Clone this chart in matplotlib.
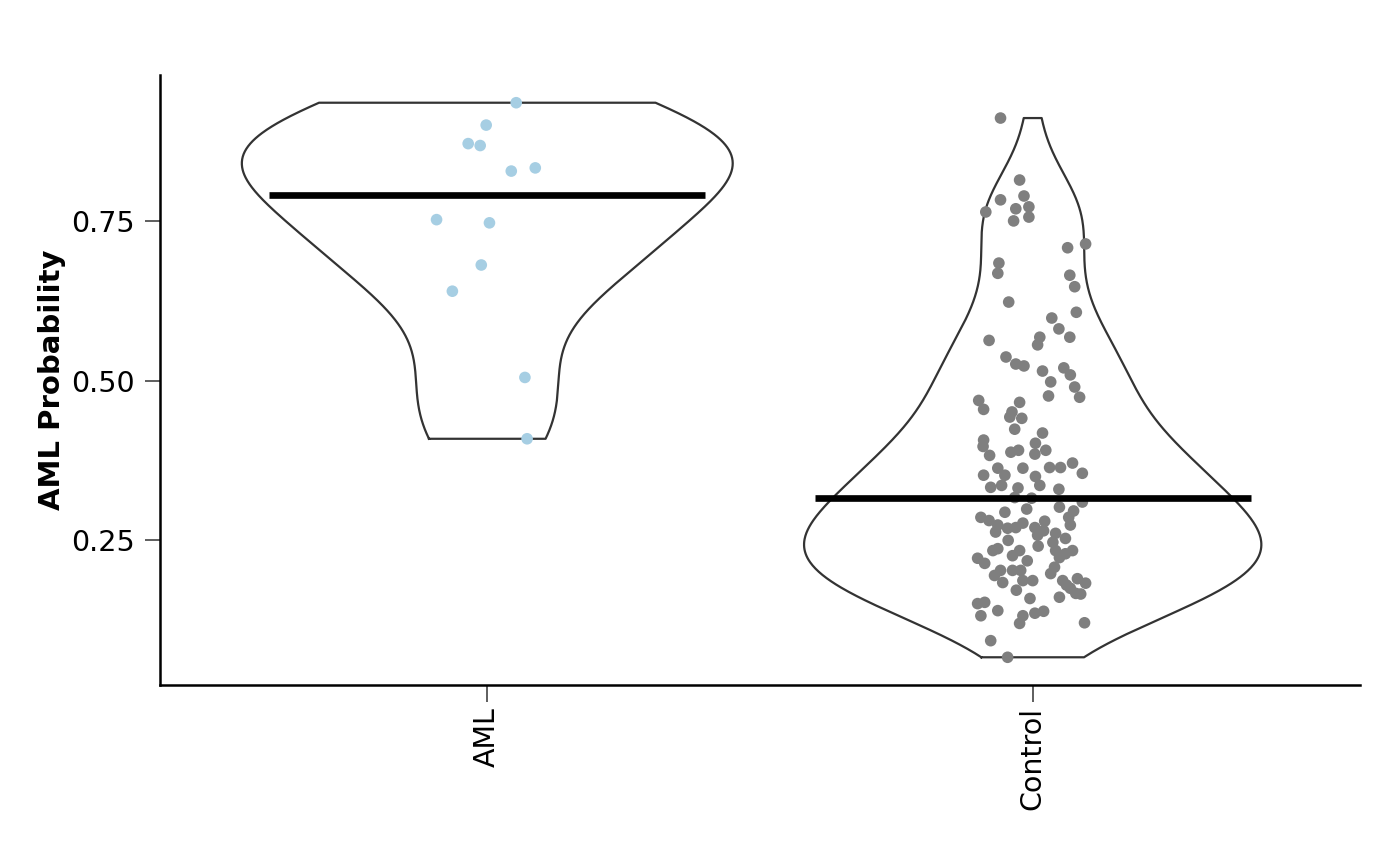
import numpy as np
import matplotlib
matplotlib.use("Agg")
import matplotlib.pyplot as plt

# categories and colours
groups = ["AML", "Control"]
point_colors = ["#a6cee3", "#7f7f7f"]

# AML probability per sample
aml_prob = [0.935, 0.900, 0.871, 0.868, 0.833, 0.828,
            0.752, 0.747, 0.681, 0.640, 0.505, 0.409]
aml_jit = [0.053, -0.002, -0.035, -0.013, 0.088, 0.044,
           -0.093, 0.004, -0.011, -0.064, 0.069, 0.073]

ctrl_prob = [0.911, 0.814, 0.789, 0.783, 0.772, 0.769, 0.764, 0.756, 0.750, 0.714,
             0.708, 0.684, 0.668, 0.665, 0.647, 0.623, 0.607, 0.598, 0.581, 0.568,
             0.563, 0.568, 0.556, 0.537, 0.526, 0.523, 0.515, 0.498, 0.520, 0.509,
             0.490, 0.474, 0.476, 0.469, 0.455, 0.466, 0.451, 0.443, 0.441, 0.424,
             0.418, 0.402, 0.407, 0.397, 0.388, 0.391, 0.391, 0.385, 0.383, 0.371,
             0.355, 0.364, 0.364, 0.363, 0.363, 0.352, 0.352, 0.350, 0.336, 0.333,
             0.336, 0.332, 0.330, 0.317, 0.316, 0.310, 0.299, 0.302, 0.294, 0.286,
             0.286, 0.280, 0.274, 0.277, 0.270, 0.269, 0.270, 0.274, 0.263, 0.258,
             0.261, 0.253, 0.247, 0.234, 0.237, 0.234, 0.226, 0.234, 0.234, 0.222,
             0.223, 0.214, 0.203, 0.203, 0.203, 0.184, 0.187, 0.187, 0.198, 0.187,
             0.190, 0.183, 0.175, 0.167, 0.161, 0.159, 0.151, 0.153, 0.132, 0.140,
             0.132, 0.136, 0.139, 0.120, 0.121, 0.093, 0.067,
             0.296, 0.281, 0.265, 0.250, 0.241, 0.229, 0.218, 0.208, 0.195, 0.180,
             0.172, 0.166]
ctrl_jit = [-0.059, -0.024, -0.016, -0.059, -0.007, -0.031, -0.086, -0.007, -0.035, 0.097,
            0.064, -0.062, -0.064, 0.068, 0.077, -0.044, 0.080, 0.035, 0.048, 0.068,
            -0.080, 0.013, 0.009, -0.049, -0.031, -0.016, 0.018, 0.033, 0.057, 0.069,
            0.077, 0.086, 0.029, -0.099, -0.090, -0.024, -0.038, -0.042, -0.020, -0.033,
            0.018, 0.005, -0.090, -0.091, -0.040, -0.026, 0.024, 0.004, -0.079, 0.073,
            0.091, 0.031, 0.051, -0.018, -0.064, -0.051, -0.090, 0.005, 0.013, -0.077,
            -0.057, -0.027, 0.048, -0.033, -0.002, 0.091, -0.011, 0.049, -0.051, -0.095,
            0.066, 0.022, -0.064, -0.018, -0.031, -0.046, 0.004, 0.069, -0.068, 0.009,
            0.042, 0.060, 0.037, -0.073, -0.064, -0.024, -0.037, 0.042, 0.073, -0.101,
            0.049, -0.088, -0.059, -0.037, -0.022, -0.055, -0.018, 0.000, 0.033, 0.055,
            0.082, 0.097, 0.069, 0.079, 0.049, -0.005, -0.101, -0.088, -0.095, -0.064,
            -0.018, 0.004, 0.020, -0.024, 0.095, -0.077, -0.046,
            0.075, -0.080, 0.020, -0.045, 0.010, 0.060, -0.010, 0.040, -0.070, 0.062,
            -0.030, 0.088]

yticks = [0.25, 0.50, 0.75]
yticklabels = ["0.25", "0.50", "0.75"]

data = [np.array(aml_prob), np.array(ctrl_prob)]
jitter = [np.array(aml_jit), np.array(ctrl_jit)]


def nrd0(x):
    # R's default bandwidth
    sd = np.std(x, ddof=1)
    iqr = np.subtract(*np.percentile(x, [75, 25]))
    lo = min(sd, iqr / 1.34)
    return 0.9 * lo * len(x) ** -0.2


def kde(x, grid):
    bw = nrd0(x)
    z = (grid[:, None] - x[None, :]) / bw
    return np.exp(-0.5 * z ** 2).sum(axis=1) / (len(x) * bw * np.sqrt(2 * np.pi))


grids, dens = [], []
for d in data:
    g = np.linspace(d.min(), d.max(), 512)
    grids.append(g)
    dens.append(kde(d, g))
dmax = max(dd.max() for dd in dens)

fig = plt.figure(figsize=(14, 8.66), dpi=100)
ax = fig.add_axes([0.1143, 0.209, 0.8571, 0.7044])

for i, (g, dd) in enumerate(zip(grids, dens)):
    pos = i + 1
    half = dd / dmax * 0.45
    xs = np.concatenate([pos - half, (pos + half)[::-1], [pos - half[0]]])
    ys = np.concatenate([g, g[::-1], [g[0]]])
    ax.plot(xs, ys, color="#333333", lw=1.6, zorder=2)

for i, d in enumerate(data):
    ax.scatter(i + 1 + jitter[i], d, s=70, color=point_colors[i],
               edgecolors="none", zorder=3)
    med = np.median(d)
    ax.hlines(med, i + 1 - 0.4, i + 1 + 0.4, color="black", lw=4.8, zorder=4)

ax.set_xlim(0.4, 2.6)
lo = min(d.min() for d in data)
hi = max(d.max() for d in data)
pad = (hi - lo) * 0.05
ax.set_ylim(lo - pad, hi + pad)

ax.set_xticks([1, 2])
ax.set_xticklabels(groups, rotation=90, fontsize=20.5)
ax.set_yticks(yticks)
ax.set_yticklabels(yticklabels, fontsize=20.5)
ax.tick_params(axis="y", length=11, width=1.1, color="#333333", pad=7)
ax.tick_params(axis="x", length=12, width=1.1, color="#333333", pad=4)
ax.set_ylabel("AML Probability", fontsize=21, fontweight="bold", labelpad=4)

for s in ["top", "right"]:
    ax.spines[s].set_visible(False)
for s in ["left", "bottom"]:
    ax.spines[s].set_linewidth(1.8)
    ax.spines[s].set_color("black")

fig.savefig("out.png", dpi=100)
